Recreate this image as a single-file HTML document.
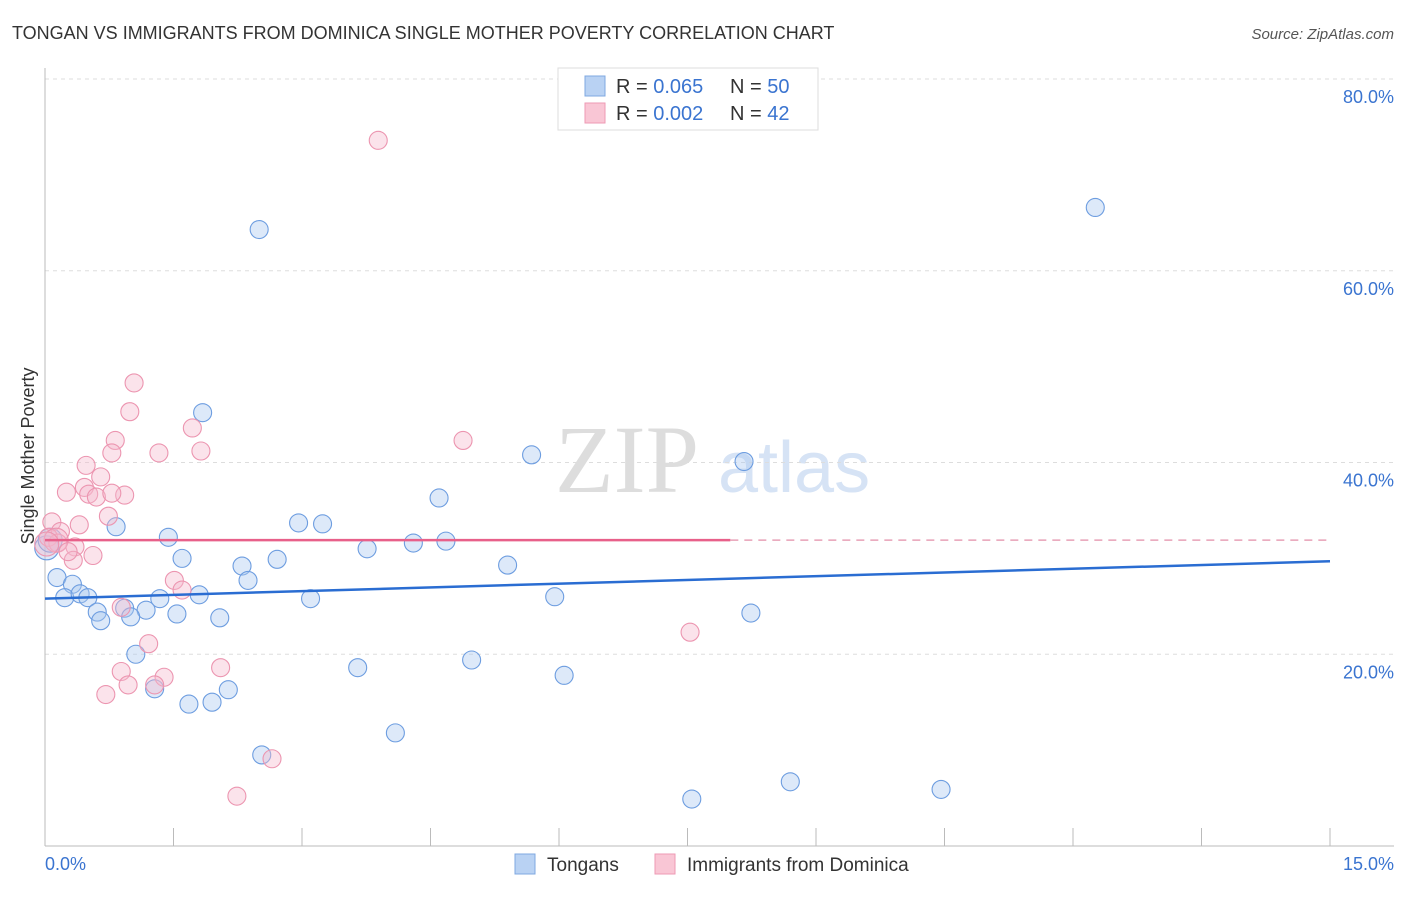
<!DOCTYPE html>
<html><head><meta charset="utf-8"><style>
body{margin:0;background:#fff;font-family:"Liberation Sans",sans-serif;}
</style></head><body>
<svg width="1406" height="892" xmlns="http://www.w3.org/2000/svg" font-family="Liberation Sans, sans-serif">
<text x="12" y="39" font-size="18" fill="#333">TONGAN VS IMMIGRANTS FROM DOMINICA SINGLE MOTHER POVERTY CORRELATION CHART</text>
<text x="1394" y="39" font-size="15" fill="#555" font-style="italic" text-anchor="end">Source: ZipAtlas.com</text>
<text x="555" y="492" font-size="96" fill="#ddd" font-family="Liberation Serif, serif">ZIP</text>
<text x="718" y="492" font-size="72" fill="#d6e3f5">atlas</text>
<g id="grid"></g>
<line x1="45" y1="68" x2="45" y2="846" stroke="#bbb"/>
<line x1="45" y1="846" x2="1394" y2="846" stroke="#bbb"/>
<text transform="translate(34,456) rotate(-90)" font-size="18" fill="#333" text-anchor="middle">Single Mother Poverty</text>
<text x="45" y="870" font-size="18" fill="#3a74d0">0.0%</text>
<text x="1394" y="870" font-size="18" fill="#3a74d0" text-anchor="end">15.0%</text>
<g id="pts"></g>
<g id="lines"></g>
<g>
<rect x="558" y="68" width="260" height="62" fill="#fff" stroke="#ddd"/>
<rect x="585" y="76" width="20" height="20" fill="#b9d2f3" stroke="#7fa8e0"/>
<rect x="585" y="103" width="20" height="20" fill="#f9c6d5" stroke="#ee9ab4"/>
<text x="616" y="93" font-size="20" fill="#333">R = <tspan fill="#3a74d0">0.065</tspan></text>
<text x="730" y="93" font-size="20" fill="#333">N = <tspan fill="#3a74d0">50</tspan></text>
<text x="616" y="120" font-size="20" fill="#333">R = <tspan fill="#3a74d0">0.002</tspan></text>
<text x="730" y="120" font-size="20" fill="#333">N = <tspan fill="#3a74d0"> 42</tspan></text>
</g>
<rect x="515" y="854" width="20" height="20" fill="#b9d2f3" stroke="#7fa8e0"/>
<text x="547" y="871" font-size="19" fill="#333">Tongans</text>
<rect x="655" y="854" width="20" height="20" fill="#f9c6d5" stroke="#ee9ab4"/>
<text x="687" y="871" font-size="19" fill="#333">Immigrants from Dominica</text>
</svg>
<script>
const yTicks=[20,40,60,80];
const yTickLabels=["20.0%","40.0%","60.0%","80.0%"];
const xTicks=[0,1.5,3,4.5,6,7.5,9,10.5,12,13.5,15];
const tonganX=[2.50,12.26,1.84,5.68,8.16,4.60,0.83,2.96,3.24,1.44,3.76,4.30,4.68,1.60,2.71,2.30,5.40,0.14,2.37,0.32,0.23,0.41,0.50,1.80,1.34,3.10,5.95,0.61,0.93,1.18,1.54,0.65,1.00,2.04,8.24,1.06,3.65,4.98,6.06,1.28,2.14,1.68,1.95,4.09,2.53,8.70,7.55,10.46,0.02,0.06];
const tonganY=[64.3,66.6,45.2,40.8,40.1,36.3,33.3,33.7,33.6,32.2,31.0,31.6,31.8,30.0,29.9,29.2,29.3,28.0,27.7,27.3,25.9,26.3,25.9,26.2,25.8,25.8,26.0,24.4,24.8,24.6,24.2,23.5,23.9,23.8,24.3,20.0,18.6,19.4,17.8,16.4,16.3,14.8,15.0,11.8,9.5,6.7,4.9,5.9,31.1,31.9];
const domX=[3.89,1.04,0.99,4.88,0.82,1.72,0.78,1.33,1.82,0.48,0.25,0.46,0.65,0.51,0.60,0.93,0.74,0.08,0.40,0.18,0.04,0.15,0.35,0.56,0.33,1.51,1.60,0.89,7.53,1.21,2.05,0.89,1.39,1.28,0.97,0.71,2.65,2.24,0.13,0.02,0.27,0.78];
const domY=[73.6,48.3,45.3,42.3,42.3,43.6,41.0,41.0,41.2,39.7,36.9,37.4,38.5,36.7,36.4,36.6,34.4,33.8,33.5,32.8,32.2,31.6,31.2,30.3,29.8,27.7,26.7,24.9,22.3,21.1,18.6,18.2,17.6,16.8,16.8,15.8,9.1,5.2,31.9,31.5,30.7,36.8];
const tonganTrend=[25.8,29.7];
const domTrend=[31.9,31.9];
const domTrendSolidEnd=8.0;
const NS="http://www.w3.org/2000/svg";
const sx=v=>45+v*(1285/15);
const sy=v=>846-v*(767/80);
function mk(tag,attrs,parent){const e=document.createElementNS(NS,tag);for(const k in attrs)e.setAttribute(k,attrs[k]);parent.appendChild(e);return e;}
const grid=document.getElementById('grid');
yTicks.forEach((t,i)=>{
  const l=mk('line',{x1:45,x2:1394,y1:sy(t),y2:sy(t),stroke:'#ddd','stroke-dasharray':'4,4'},grid);
  
  
  const tx=mk('text',{x:1394,y:sy(t)+24,'font-size':18,fill:'#3a74d0','text-anchor':'end'},grid);
  tx.textContent=yTickLabels[i];
  
  
});
xTicks.forEach(t=>{
  const l=mk('line',{x1:sx(t),x2:sx(t),y1:828,y2:846,stroke:'#bbb'},grid);
  
  
});
const pts=document.getElementById('pts');
tonganX.forEach((x,i)=>{
  const c=mk('circle',{cx:sx(x),cy:sy(tonganY[i]),r:(i>=48?12:9),fill:'rgba(170,200,240,0.4)',stroke:'#6d9de0','stroke-width':1.1},pts);
  
  
});
domX.forEach((x,i)=>{
  const c=mk('circle',{cx:sx(x),cy:sy(domY[i]),r:(i>=38&&i<40?12:9),fill:'rgba(246,185,205,0.4)',stroke:'#ec95b0','stroke-width':1.1},pts);
  
  
});
const lines=document.getElementById('lines');
const bl=mk('line',{x1:sx(0),y1:sy(tonganTrend[0]),x2:sx(15),y2:sy(tonganTrend[1]),stroke:'#2a6dd2','stroke-width':2.5},lines);


const ym=domTrend[0]+(domTrend[1]-domTrend[0])*domTrendSolidEnd/15;
const pl=mk('line',{x1:sx(0),y1:sy(domTrend[0]),x2:sx(domTrendSolidEnd),y2:sy(ym),stroke:'#e8608a','stroke-width':2.5},lines);


const pd=mk('line',{x1:sx(domTrendSolidEnd),y1:sy(ym),x2:sx(15),y2:sy(domTrend[1]),stroke:'#e8a0b6','stroke-width':1.5,'stroke-dasharray':'8,6'},lines);


</script>
</body></html>
